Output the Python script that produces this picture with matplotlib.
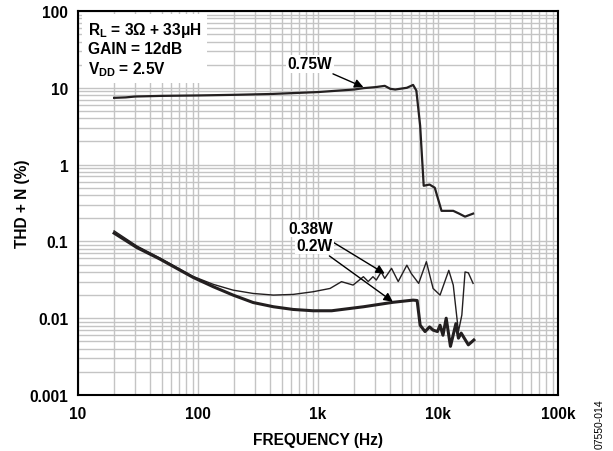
import numpy as np
import matplotlib.pyplot as plt
from matplotlib.ticker import LogLocator, FixedLocator, NullFormatter

plt.rcParams['font.family'] = ['Liberation Sans', 'DejaVu Sans']
plt.rcParams['font.weight'] = 'bold'
plt.rcParams['mathtext.fontset'] = 'custom'
plt.rcParams['mathtext.rm'] = 'Liberation Sans:bold'
plt.rcParams['mathtext.bf'] = 'Liberation Sans:bold'
plt.rcParams['mathtext.it'] = 'Liberation Sans:bold'

FS = 11.2

# 0.75W curve
f_075 = [20, 25, 30, 50, 100, 200, 400, 700, 1000, 2000, 2400, 3000, 3600,
         4000, 4400, 5500, 6200, 6600, 7100, 7600, 8500, 9400, 10700, 13400,
         15000, 16800, 19600]
thd_075 = [7.4, 7.5, 7.7, 7.85, 7.95, 8.1, 8.3, 8.6, 8.8, 9.5, 9.9, 10.2,
           10.6, 9.7, 9.5, 10.0, 10.9, 9.2, 3.2, 0.53, 0.55, 0.5, 0.25, 0.25,
           0.23, 0.21, 0.23]

# 0.38W curve
f_038 = [20, 31, 48, 91, 134, 196, 288, 425, 620, 910, 1260, 1570, 1960,
         2390, 2620, 2870, 3060, 3360, 3600, 4100, 4660, 5500, 6000, 6900,
         8000, 9100, 10400, 12300, 13400, 14800, 15800, 16800, 17900, 19600]
thd_038 = [0.137, 0.087, 0.061, 0.035, 0.0276, 0.0232, 0.021, 0.020, 0.0204,
           0.0221, 0.0244, 0.0299, 0.027, 0.0347, 0.030, 0.0347, 0.0314,
           0.040, 0.033, 0.0446, 0.030, 0.049, 0.038, 0.0284, 0.0544, 0.0244,
           0.020, 0.042, 0.027, 0.0067, 0.011, 0.040, 0.039, 0.0284]

# 0.2W curve
f_02 = [20, 31, 48, 91, 134, 196, 288, 425, 620, 910, 1300, 2400, 4200,
        6200, 6700, 7100, 7800, 8500, 9100, 9900, 10400, 11000, 11700,
        12700, 14100, 14800, 15600, 17900, 19900]
thd_02 = [0.128, 0.083, 0.059, 0.034, 0.0257, 0.020, 0.016, 0.0141, 0.013,
          0.0125, 0.0125, 0.0141, 0.0161, 0.0172, 0.017, 0.0081, 0.0067,
          0.0077, 0.007, 0.0067, 0.0081, 0.006, 0.010, 0.0043, 0.0085,
          0.0055, 0.0064, 0.0045, 0.0052]

fig = plt.figure(figsize=(6.13, 4.52), dpi=100)
ax = fig.add_axes([78/613, 1 - 396/452, 480/613, 384/452])

ax.plot(f_075, thd_075, color='#231f20', lw=1.6)
ax.plot(f_038, thd_038, color='#231f20', lw=1.0)
ax.plot(f_02, thd_02, color='#231f20', lw=2.2)

ax.set_xscale('log')
ax.set_yscale('log')
ax.set_xlim(10, 100000)
ax.set_ylim(0.001, 100)

ax.xaxis.set_major_locator(FixedLocator([10, 100, 1000, 10000, 100000]))
ax.set_xticklabels(['10', '100', '1k', '10k', '100k'])
ax.yaxis.set_major_locator(FixedLocator([0.001, 0.01, 0.1, 1, 10, 100]))
ax.set_yticklabels(['0.001', '0.01', '0.1', '1', '10', '100'])
ax.xaxis.set_minor_locator(LogLocator(base=10, subs=np.arange(2, 10), numticks=20))
ax.yaxis.set_minor_locator(LogLocator(base=10, subs=np.arange(2, 10), numticks=20))
ax.xaxis.set_minor_formatter(NullFormatter())
ax.yaxis.set_minor_formatter(NullFormatter())
ax.tick_params(which='both', length=0, labelsize=FS)
ax.tick_params(axis='y', pad=7)
ax.tick_params(axis='x', pad=8)

ax.grid(True, which='both', color='#c4c4c4', lw=1.0)
ax.set_axisbelow(True)
for s in ax.spines.values():
    s.set_linewidth(1.5)
    s.set_color('black')

ax.set_xlabel('FREQUENCY (Hz)', fontsize=FS, fontweight='bold')
ax.set_ylabel('THD + N (%)', fontsize=FS, fontweight='bold')
ax.xaxis.set_label_coords(0.5, -(433 - 396) / 384)
ax.yaxis.set_label_coords(-(78 - 30) / 480, 0.5)

ax.text(0.021, 0.977,
        '$\\mathrm{R_L}$ = 3Ω + 33μH\nGAIN = 12dB\n$\\mathrm{V_{DD}}$ = 2.5V',
        transform=ax.transAxes, ha='left', va='top', fontsize=FS,
        fontweight='bold', linespacing=1.2,
        bbox=dict(facecolor='white', edgecolor='none', pad=4))

arrow = dict(arrowstyle='-|>', color='black', lw=1.0, mutation_scale=13,
             shrinkA=2, shrinkB=0)
ax.annotate('0.75W', xy=(2390, 10.2), xytext=(858, 20.5),
            fontsize=FS, fontweight='bold', ha='center', va='center',
            arrowprops=arrow,
            bbox=dict(facecolor='white', edgecolor='none', pad=1))
ax.annotate('0.38W', xy=(3600, 0.038), xytext=(1330, 0.1475),
            fontsize=FS, fontweight='bold', ha='right', va='center',
            arrowprops=arrow,
            bbox=dict(facecolor='white', edgecolor='none', pad=1))
ax.annotate('0.2W', xy=(4200, 0.0164), xytext=(1330, 0.0887),
            fontsize=FS, fontweight='bold', ha='right', va='center',
            arrowprops=arrow,
            bbox=dict(facecolor='white', edgecolor='none', pad=1))

fig.text(600/613, 1 - 424/452, '07550-014', rotation=90, fontsize=7.5,
         fontweight='normal', ha='center', va='center')

fig.savefig('out.png', dpi=100)
